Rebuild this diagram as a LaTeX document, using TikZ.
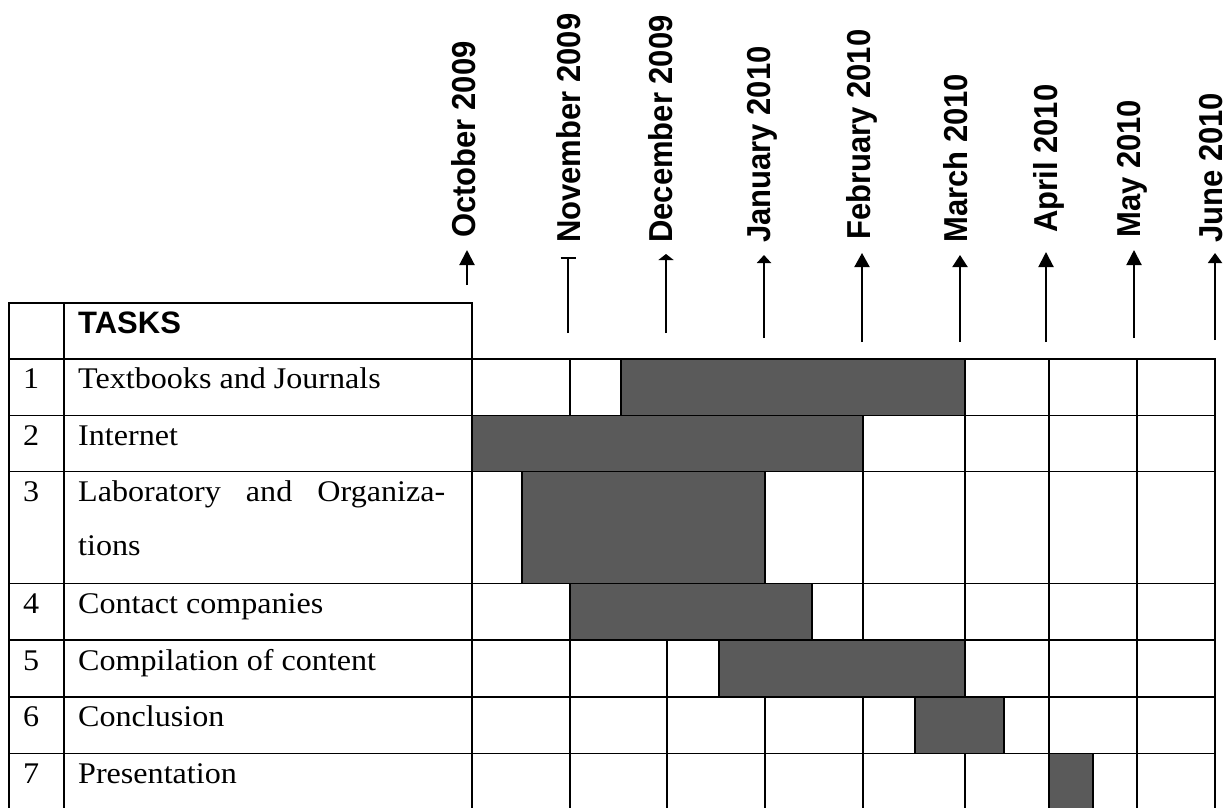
\documentclass[tikz,border=0pt]{standalone}
\usepackage{fontspec}
\usepackage{graphicx}
\setmainfont{Liberation Serif}
\newfontfamily\labfont{Liberation Sans}
\usetikzlibrary{arrows.meta}
\definecolor{barfill}{RGB}{90,90,90}
\newcommand{\widetext}[1]{\scalebox{1.07}[1]{#1}}
\newcommand{\talltext}[1]{\scalebox{1}[1.07]{#1}}
\tikzset{
  tablerule/.style={line width=1.6pt, draw=black, line cap=rect},
  ganttbar/.style={fill=barfill, draw=black, line width=1.6pt},
  taskcell/.style={anchor=base west, inner sep=0pt, font=\fontsize{30}{36}\selectfont},
  headcell/.style={anchor=base west, inner sep=0pt, font=\labfont\bfseries\fontsize{31}{37}\selectfont},
  monthlabel/.style={anchor=base west, inner sep=0pt, rotate=90, font=\labfont\bfseries\fontsize{31}{37}\selectfont},
  marker/.style={line width=2pt, draw=black},
}
\begin{document}
\begin{tikzpicture}[x=1pt,y=-1pt]
\useasboundingbox (0,0) rectangle (1231,807);
\clip (0,0) rectangle (1231,807);
\fill[white] (0,0) rectangle (1231,807);

% table grid
\draw[tablerule] (9,302.7) -- (472,302.7);
\foreach \y in {359,415.5,471.5,583.5,640,697,753.5,810}
  \draw[tablerule] (9,\y) -- (1215,\y);
\foreach \x in {9,64,472}
  \draw[tablerule] (\x,302.7) -- (\x,810);
\foreach \x in {570,667,765,863,965,1049,1137,1215}
  \draw[tablerule] (\x,359) -- (\x,810);

% gantt bars
\draw[ganttbar] (621,359) rectangle (965,415.5);
\draw[ganttbar] (472,415.5) rectangle (863,471.5);
\draw[ganttbar] (522,471.5) rectangle (765,583.5);
\draw[ganttbar] (570,583.5) rectangle (812,640);
\draw[ganttbar] (719,640) rectangle (965,697);
\draw[ganttbar] (915,697) rectangle (1004,753.5);
\draw[ganttbar] (1049,753.5) rectangle (1093,810);

% header and task texts
\node[headcell] (hdr) at (78,333) {TASKS};
\node[taskcell] (n1) at (23,388.5) {\widetext{1}};
\node[taskcell] (t1) at (78,388.5) {\widetext{Textbooks and Journals}};
\node[taskcell] (n2) at (23,445) {\widetext{2}};
\node[taskcell] (t2) at (78,445) {\widetext{Internet}};
\node[taskcell] (n3) at (23,501) {\widetext{3}};
\node[taskcell] (t3) at (78,501) {\widetext{\makebox[343pt][s]{Laboratory and Organiza-}}};
\node[taskcell] (t3b) at (78,555) {\widetext{tions}};
\node[taskcell] (n4) at (23,613) {\widetext{4}};
\node[taskcell] (t4) at (78,613) {\widetext{Contact companies}};
\node[taskcell] (n5) at (23,670) {\widetext{5}};
\node[taskcell] (t5) at (78,670) {\widetext{Compilation of content}};
\node[taskcell] (n6) at (23,726.5) {\widetext{6}};
\node[taskcell] (t6) at (78,726.5) {\widetext{Conclusion}};
\node[taskcell] (n7) at (23,783) {\widetext{7}};
\node[taskcell] (t7) at (78,783) {\widetext{Presentation}};

% month labels
\node[monthlabel] (m1) at (475,238) {\talltext{October 2009}};
\node[monthlabel] (m2) at (580,243) {\talltext{November 2009}};
\node[monthlabel] (m3) at (672,243) {\talltext{December 2009}};
\node[monthlabel] (m4) at (770,243) {\talltext{January 2010}};
\node[monthlabel] (m5) at (870,240) {\talltext{February 2010}};
\node[monthlabel] (m6) at (967,243) {\talltext{March 2010}};
\node[monthlabel] (m7) at (1057,233) {\talltext{April 2010}};
\node[monthlabel] (m8) at (1140,238) {\talltext{May 2010}};
\node[monthlabel] (m9) at (1222,243) {\talltext{June 2010}};

% month markers
\coordinate (a1s) at (467,285);  \coordinate (a1e) at (467,250);
\coordinate (a2s) at (568,333);  \coordinate (a2e) at (568,257);
\coordinate (a3s) at (666,333);  \coordinate (a3e) at (666,254);
\coordinate (a4s) at (764,338);  \coordinate (a4e) at (764,255);
\coordinate (a5s) at (862,342);  \coordinate (a5e) at (862,253);
\coordinate (a6s) at (960,342);  \coordinate (a6e) at (960,255);
\coordinate (a7s) at (1046,342); \coordinate (a7e) at (1046,252);
\coordinate (a8s) at (1134,338); \coordinate (a8e) at (1134,250);
\coordinate (a9s) at (1215,340); \coordinate (a9e) at (1215,253);
\draw[marker,-{Triangle[length=15pt,width=15pt]}] (a1s) -- (a1e);
\draw[marker,-{Bar[width=15pt]}] (a2s) -- (a2e);
\draw[marker,-{Triangle[length=6pt,width=15pt]}] (a3s) -- (a3e);
\draw[marker,-{Triangle[length=8pt,width=14pt]}] (a4s) -- (a4e);
\draw[marker,-{Triangle[length=14pt,width=15pt]}] (a5s) -- (a5e);
\draw[marker,-{Triangle[length=12pt,width=15pt]}] (a6s) -- (a6e);
\draw[marker,-{Triangle[length=15pt,width=15pt]}] (a7s) -- (a7e);
\draw[marker,-{Triangle[length=15pt,width=15pt]}] (a8s) -- (a8e);
\draw[marker,-{Triangle[length=10pt,width=14pt]}] (a9s) -- (a9e);
\end{tikzpicture}
\end{document}
